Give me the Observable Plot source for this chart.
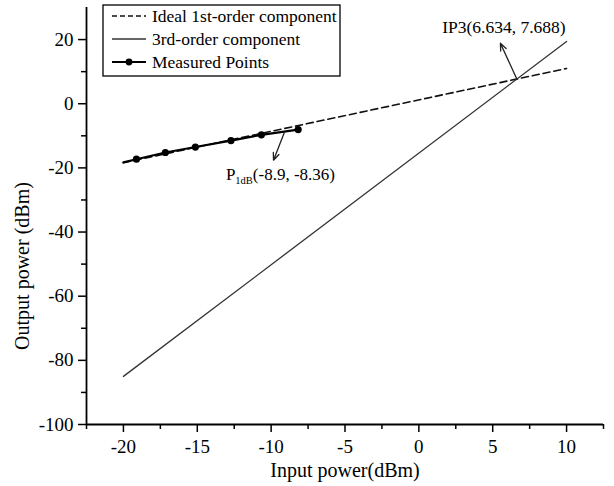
<!DOCTYPE html>
<html><head><meta charset="utf-8">
<script src="https://cdn.jsdelivr.net/npm/d3@7"></script>
<script src="https://cdn.jsdelivr.net/npm/@observablehq/plot@0.6"></script>
<style>
body{margin:0;background:#fff}
#chart{position:relative;width:614px;height:486px}
</style>
</head><body><div id="chart"></div>
<script>
// ---- data ----
const idealX = [-20, 10];
const idealY = [-18.4, 11.0];
const thirdX = [-20, 10];
const thirdY = [-85, 19.4];
const measuredX = [-19.12, -17.16, -15.13, -12.72, -10.66, -8.17];
const measuredY = [-17.3, -15.2, -13.5, -11.5, -9.7, -8.05];
const measuredLeadX = [-20];
const measuredLeadY = [-18.3];
const xTicks = [-20, -15, -10, -5, 0, 5, 10];
const xMinorTicks = [-22.5, -17.5, -12.5, -7.5, -2.5, 2.5, 7.5, 12.5];
const yTicks = [-100, -80, -60, -40, -20, 0, 20];
const yMinorTicks = [-90, -70, -50, -30, -10, 10];
const legendLabels = ["Ideal 1st-order component", "3rd-order component", "Measured Points"];
const ip3Label = "IP3(6.634, 7.688)";
const ip3Point = [6.634, 7.688];
const p1dbValues = "(-8.9, -8.36)";

const ideal = idealX.map((x, i) => ({x, y: idealY[i]}));
const third = thirdX.map((x, i) => ({x, y: thirdY[i]}));
const measured = measuredX.map((x, i) => ({x, y: measuredY[i]}));
const measuredLine = measuredLeadX.map((x, i) => ({x, y: measuredLeadY[i]})).concat(measured);

const FONT = "Liberation Serif, Times New Roman, serif";

const chart = Plot.plot({
  width: 614,
  height: 486,
  marginLeft: 86,
  marginRight: 11,
  marginTop: 7,
  marginBottom: 62,
  x: {domain: [-22.5, 12.5]},
  y: {domain: [-100, 30]},
  style: {fontFamily: FONT, fontSize: "19px", color: "#000", background: "#fff", overflow: "visible"},
  marks: [
    Plot.axisX({ticks: xTicks, tickSize: 8, tickPadding: 7, tickFormat: d => String(d), label: null, strokeWidth: 1.5, fontSize: 19}),
    Plot.axisX({ticks: xMinorTicks, tickSize: 5, text: null, label: null, strokeWidth: 1.5}),
    Plot.axisY({ticks: yTicks, tickSize: 8, tickPadding: 5, tickFormat: d => String(d), label: null, strokeWidth: 1.5, fontSize: 19}),
    Plot.axisY({ticks: yMinorTicks, tickSize: 5, text: null, label: null, strokeWidth: 1.5}),
    Plot.ruleY([-100], {stroke: "#000", strokeWidth: 1.8}),
    Plot.ruleX([-22.5], {stroke: "#000", strokeWidth: 1.8}),
    Plot.line(ideal, {x: "x", y: "y", stroke: "#111", strokeWidth: 1.6, strokeDasharray: "7,4"}),
    Plot.line(third, {x: "x", y: "y", stroke: "#333", strokeWidth: 1.3}),
    Plot.line(measuredLine, {x: "x", y: "y", stroke: "#000", strokeWidth: 2.2}),
    Plot.dot(measured, {x: "x", y: "y", r: 3.6, fill: "#000", stroke: "none"}),
    Plot.arrow([{x1: ip3Point[0], y1: ip3Point[1], x2: 5.52, y2: 18.85}], {x1: "x1", y1: "y1", x2: "x2", y2: "y2", stroke: "#222", strokeWidth: 1.3, headLength: 9, headAngle: 45}),
    Plot.arrow([{x1: -9.1, y1: -8.9, x2: -9.84, y2: -17.6}], {x1: "x1", y1: "y1", x2: "x2", y2: "y2", stroke: "#222", strokeWidth: 1.3, headLength: 9, headAngle: 45}),
    Plot.text([ip3Label], {x: 5.76, y: 23.8, text: d => d, fontSize: 17.5, fill: "#000", textAnchor: "middle"}),
    Plot.text(["Output power (dBm)"], {frameAnchor: "left", textAnchor: "middle", lineAnchor: "middle", rotate: -90, dx: -64, dy: 50, text: d => d, fontSize: 20, fill: "#000"}),
    Plot.text(["Input power(dBm)"], {frameAnchor: "bottom", textAnchor: "middle", lineAnchor: "middle", dy: 46, text: d => d, fontSize: 20, fill: "#000"})
  ]
});

const svg = d3.select(chart);
const sx = chart.scale("x"), sy = chart.scale("y");

// P1dB annotation with subscript
const p1 = svg.append("text")
  .attr("x", sx.apply(-13.03)).attr("y", sy.apply(-22.0) + 6)
  .attr("text-anchor", "start")
  .attr("font-family", FONT).attr("font-size", 17).attr("fill", "#000");
p1.append("tspan").text("P");
p1.append("tspan").attr("font-size", 10.5).attr("dy", 4).text("1dB");
p1.append("tspan").attr("dy", -4).text(p1dbValues);

// Legend
const lg = svg.append("g").attr("font-family", FONT).attr("font-size", 17.5).attr("text-anchor", "start");
lg.append("rect").attr("x", 103).attr("y", 5).attr("width", 237).attr("height", 71)
  .attr("fill", "#fff").attr("stroke", "#000").attr("stroke-width", 1.3);
const rowsY = [16, 39, 62];
const styles = [
  {dash: "5,3", w: 1.6, c: "#111", dot: false},
  {dash: null, w: 1.3, c: "#333", dot: false},
  {dash: null, w: 2.2, c: "#000", dot: true}
];
legendLabels.forEach((lab, i) => {
  const y = rowsY[i], s = styles[i];
  const ln = lg.append("line").attr("x1", 112).attr("x2", 146).attr("y1", y).attr("y2", y)
    .attr("stroke", s.c).attr("stroke-width", s.w);
  if (s.dash) ln.attr("stroke-dasharray", s.dash);
  if (s.dot) lg.append("circle").attr("cx", 129).attr("cy", y).attr("r", 3.4).attr("fill", "#000");
  lg.append("text").attr("x", 152).attr("y", y).attr("dy", "0.35em").attr("fill", "#000").text(lab);
});

document.getElementById("chart").appendChild(chart);
</script>
</body></html>
